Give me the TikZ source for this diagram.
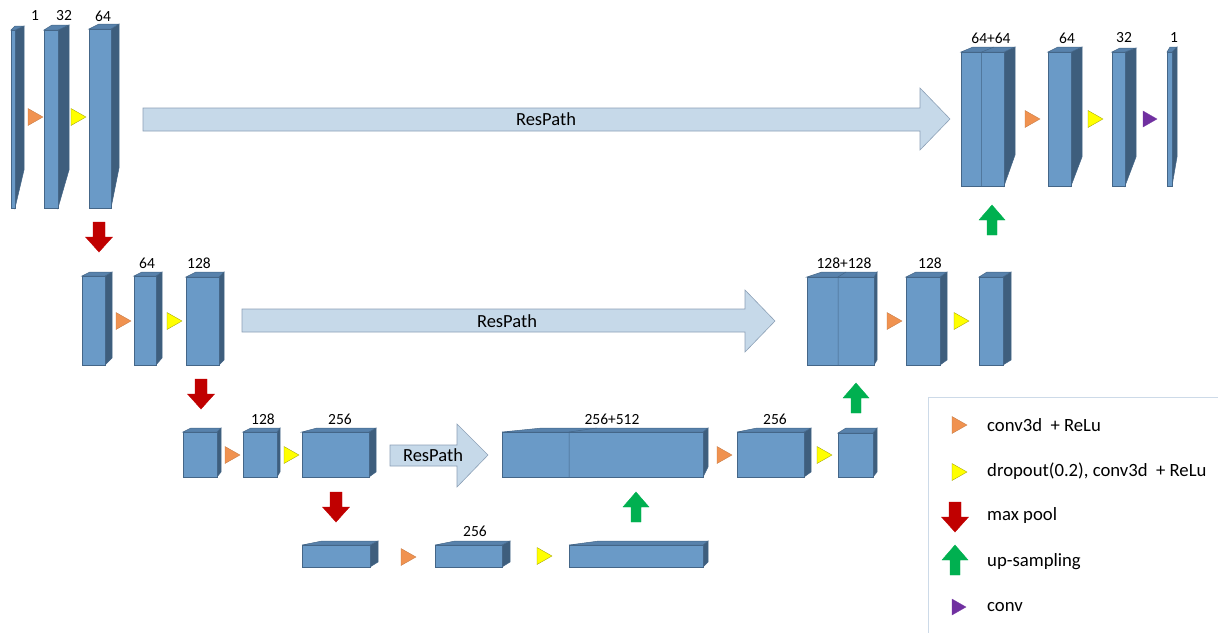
\documentclass[tikz,border=0pt]{standalone}
\usepackage{fontspec}
\setmainfont{Carlito}
\usepackage{tikz}
\usetikzlibrary{calc}

\definecolor{cfront}{RGB}{106,154,199}
\definecolor{cside}{RGB}{62,94,125}
\definecolor{ctop}{RGB}{88,130,172}
\definecolor{cedge}{RGB}{68,102,136}
\definecolor{cres}{RGB}{198,217,233}
\definecolor{cresedge}{RGB}{140,160,182}
\definecolor{corange}{RGB}{240,146,80}
\definecolor{cyellow}{RGB}{255,255,0}
\definecolor{cred}{RGB}{192,0,0}
\definecolor{cgreen}{RGB}{0,176,80}
\definecolor{cpurple}{RGB}{112,48,160}
\definecolor{clegend}{RGB}{205,218,232}

\tikzset{
  frontface/.style = {fill=cfront, draw=cedge, line width=.5pt},
  sideface/.style  = {fill=cside, draw=cedge, line width=.5pt},
  topface/.style   = {fill=ctop, draw=cedge, line width=.5pt},
  conv/.style      = {fill=corange, draw=corange!80!black, line width=.3pt},
  drop/.style      = {fill=cyellow, draw=cyellow!60!black, line width=.3pt},
  last/.style      = {fill=cpurple, draw=cpurple, line width=.3pt},
  pool/.style      = {fill=cred, draw=cred},
  upsmp/.style     = {fill=cgreen, draw=cgreen},
  respath/.style   = {fill=cres, draw=cresedge, line width=.6pt},
  dims/.style      = {font=\fontsize{15.5}{18}\selectfont, inner sep=0pt},
  restext/.style   = {font=\fontsize{18.5}{22}\selectfont, inner sep=0pt},
  legtext/.style   = {font=\fontsize{18.7}{22}\selectfont, inner sep=0pt, anchor=west}
}

% block: x1, y1, x2, y2, depth, top lift, bottom lift, top-left shift
\newcommand{\layerblock}[8]{%
  \filldraw[sideface] (#3,#2) -- ({#3+#5},{#2-#6}) -- ({#3+#5},{#4-#7}) -- (#3,#4) -- cycle;
  \filldraw[topface] (#1,#2) -- ({#1+#8},{#2-#6}) -- ({#3+#5},{#2-#6}) -- (#3,#2) -- cycle;
  \filldraw[frontface] (#1,#2) rectangle (#3,#4);
}

\begin{document}
\begin{tikzpicture}[x=1pt, y=-1pt]
\useasboundingbox (0,0) rectangle (1218,632);

%Legend frame
\draw[clegend, line width=.8pt] (928,397) rectangle (1240,650);

%ResPath arrows
\filldraw[respath] (143,108) -- (920,108) -- (920,88) -- (950,119) -- (920,150) -- (920,131) -- (143,131) -- cycle;
\node[restext] (rp1) at (546,119) {ResPath};
\filldraw[respath] (242,309) -- (745,309) -- (745,290) -- (775,321) -- (745,352) -- (745,332) -- (242,332) -- cycle;
\node[restext] (rp2) at (507,321) {ResPath};
\filldraw[respath] (390,445) -- (457,445) -- (457,424) -- (488,455) -- (457,487) -- (457,466) -- (390,466) -- cycle;
\node[restext] (rp3) at (433,455) {ResPath};

%Level 1 (encoder)
\layerblock{11}{30}{15}{208}{9}{4}{38}{4}
\layerblock{44}{30}{58}{208}{11}{5}{38}{8}
\layerblock{89}{29}{111}{208}{8}{5}{40}{10}

%Level 1 (decoder)
\layerblock{961}{52}{1004}{186}{11}{5}{31}{12}
\draw[cedge, line width=.5pt] (981.7,52) -- (981.7,186) (981.7,52) -- (994,47);
\layerblock{1048}{52}{1071}{186}{11}{5}{29}{10}
\layerblock{1112}{52}{1125}{186}{11}{4}{29}{8}
\layerblock{1167}{52}{1172}{186}{5}{5}{29}{3}

%Level 2
\layerblock{82}{276}{105}{365}{7}{4}{7}{8}
\layerblock{134}{276}{156}{365}{6}{4}{7}{8}
\layerblock{186}{277}{219}{365}{5}{5}{5}{10}
\layerblock{807}{277}{874}{365}{3}{5}{5}{15}
\draw[cedge, line width=.5pt] (838,277) -- (838,365) (838,277) -- (846,272);
\layerblock{906}{277}{940}{365}{7}{5}{5}{10}
\layerblock{979}{277}{1003}{365}{8}{5}{5}{8}

%Level 3
\layerblock{183}{432}{217}{477}{4}{4}{5}{8}
\layerblock{243}{432}{277}{477}{3}{4}{5}{8}
\layerblock{302}{432}{369}{477}{7}{4}{5}{15}
\layerblock{502}{432}{703}{477}{5}{4}{10}{40}
\draw[cedge, line width=.5pt] (569,432) -- (569,477) (569,432) -- (597,428);
\layerblock{737}{432}{804}{477}{7}{4}{5}{20}
\layerblock{838}{433}{873}{477}{4}{5}{5}{8}

%Level 4 (bottom)
\layerblock{302}{545}{370}{567}{8}{4}{5}{20}
\layerblock{435}{545}{502}{567}{8}{4}{5}{20}
\layerblock{569}{545}{703}{567}{5}{4}{5}{30}

%conv3d + ReLu triangles
\foreach \x/\y in {28/117, 116/321, 225/455, 1025/119, 887/321, 717/455, 401/557, 952/425}
  \filldraw[conv] (\x,{\y-8.5}) -- ({\x+15},\y) -- (\x,{\y+8.5}) -- cycle;

%dropout triangles
\foreach \x/\y in {71/117, 167/321, 284/455, 1088/119, 954/321, 817/455, 537/556, 952/472}
  \filldraw[drop] (\x,{\y-8.5}) -- ({\x+15},\y) -- (\x,{\y+8.5}) -- cycle;

%conv triangles
\foreach \x/\y in {1143/119, 952/607}
  \filldraw[last] (\x,{\y-8}) -- ({\x+14},\y) -- (\x,{\y+8}) -- cycle;

%max pool arrows
\foreach \x/\y in {99/222, 201/379, 336/492, 955/502}
  \filldraw[pool] ({\x-6},\y) -- ({\x+6},\y) -- ({\x+6},{\y+15}) -- ({\x+13.5},{\y+15})
     -- (\x,{\y+30}) -- ({\x-13.5},{\y+15}) -- ({\x-6},{\y+15}) -- cycle;

%up-sampling arrows
\foreach \x/\y in {992/235, 856/413, 636/522, 955/575}
  \filldraw[upsmp] ({\x-5},\y) -- ({\x+5},\y) -- ({\x+5},{\y-15}) -- ({\x+13},{\y-15})
     -- (\x,{\y-30}) -- ({\x-13},{\y-15}) -- ({\x-5},{\y-15}) -- cycle;

%channel numbers
\foreach \x/\y/\t [count=\i] in {35/16/1, 64/16/32, 103/16/64, 991/38/64+64, 1067/38/64,
    1124/38/32, 1174/38/1, 147/263/64, 199/263/128, 844/263/128+128, 930/263/128,
    263/419/128, 340/419/256, 612/419/256+512, 775/419/256, 475/531/256}
  \node[dims] (dim\i) at (\x,\y) {\t};

%legend texts
\node[legtext] (leg1) at (987,425) {conv3d\ \ + ReLu};
\node[legtext] (leg2) at (987,471) {dropout(0.2), conv3d\ \ + ReLu};
\node[legtext] (leg3) at (987,516) {max pool};
\node[legtext] (leg4) at (987,562) {up-sampling};
\node[legtext] (leg5) at (987,607) {conv};

\end{tikzpicture}
\end{document}
